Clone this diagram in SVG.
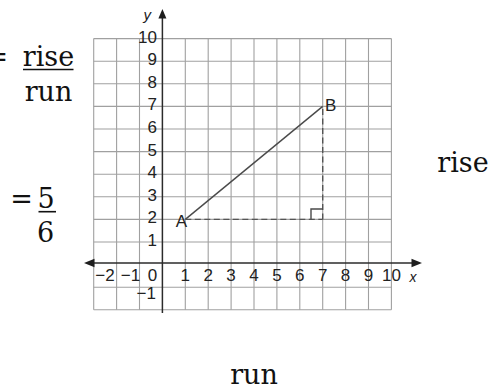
<svg xmlns="http://www.w3.org/2000/svg" width="490" height="389" viewBox="0 0 490 389">
<style>
.grid line{stroke:#a0a0a0;stroke-width:1.1}
.axis{stroke:#2b2b2b;stroke-width:1.5;fill:none}
.head{fill:#1e1e1e}
.num{font-family:"Liberation Sans",Arial,sans-serif;font-size:17px;fill:#222}
.pt{font-family:"Liberation Sans",Arial,sans-serif;font-size:17px;fill:#222}
.var{font-family:"Liberation Sans",Arial,sans-serif;font-style:italic;fill:#222}
.seg{stroke:#4a4a4a;stroke-width:1.4;fill:none}
.dash{stroke:#555;stroke-width:1.4;fill:none;stroke-dasharray:6 3.5}
.math{font-family:"DejaVu Serif","Liberation Serif",serif;font-size:27px;fill:#111}
.bar{stroke:#111;stroke-width:1.6}
</style>
<rect width="490" height="389" fill="#fff"/>
<g id="grid" class="grid">
<line x1="93.7" y1="38.6" x2="93.7" y2="309.8"/>
<line x1="116.6" y1="38.6" x2="116.6" y2="309.8"/>
<line x1="139.5" y1="38.6" x2="139.5" y2="309.8"/>
<line x1="185.3" y1="38.6" x2="185.3" y2="309.8"/>
<line x1="208.2" y1="38.6" x2="208.2" y2="309.8"/>
<line x1="231.1" y1="38.6" x2="231.1" y2="309.8"/>
<line x1="254" y1="38.6" x2="254" y2="309.8"/>
<line x1="276.9" y1="38.6" x2="276.9" y2="309.8"/>
<line x1="299.8" y1="38.6" x2="299.8" y2="309.8"/>
<line x1="322.7" y1="38.6" x2="322.7" y2="309.8"/>
<line x1="345.6" y1="38.6" x2="345.6" y2="309.8"/>
<line x1="368.5" y1="38.6" x2="368.5" y2="309.8"/>
<line x1="391.4" y1="38.6" x2="391.4" y2="309.8"/>
<line x1="93.7" y1="38.6" x2="391.4" y2="38.6"/>
<line x1="93.7" y1="61.2" x2="391.4" y2="61.2"/>
<line x1="93.7" y1="83.8" x2="391.4" y2="83.8"/>
<line x1="93.7" y1="106.4" x2="391.4" y2="106.4"/>
<line x1="93.7" y1="129" x2="391.4" y2="129"/>
<line x1="93.7" y1="151.6" x2="391.4" y2="151.6"/>
<line x1="93.7" y1="174.2" x2="391.4" y2="174.2"/>
<line x1="93.7" y1="196.8" x2="391.4" y2="196.8"/>
<line x1="93.7" y1="219.4" x2="391.4" y2="219.4"/>
<line x1="93.7" y1="242" x2="391.4" y2="242"/>
<line x1="93.7" y1="287.2" x2="391.4" y2="287.2"/>
<line x1="93.7" y1="309.8" x2="391.4" y2="309.8"/>
</g>
<g id="axes">
<line class="axis" x1="93" y1="263" x2="412" y2="263"/>
<polygon class="head" points="84,263 94.5,258.7 94.5,267.3"/>
<polygon class="head" points="422,263 411.5,258.7 411.5,267.3"/>
<line class="axis" x1="162.4" y1="313" x2="162.4" y2="17"/>
<polygon class="head" points="162.4,9 158.4,18.5 166.4,18.5"/>
<text class="var" x="409.5" y="281.7" font-size="14">x</text>
<text class="var" x="143.5" y="19.5" font-size="15">y</text>
</g>
<g id="x-labels" class="num" text-anchor="middle">
<text x="105" y="280.5">−2</text>
<text x="130.5" y="280.5">−1</text>
<text x="152.5" y="280.5">0</text>
<text x="185.3" y="280.5">1</text>
<text x="208.2" y="280.5">2</text>
<text x="231.1" y="280.5">3</text>
<text x="254" y="280.5">4</text>
<text x="276.9" y="280.5">5</text>
<text x="299.8" y="280.5">6</text>
<text x="322.7" y="280.5">7</text>
<text x="345.6" y="280.5">8</text>
<text x="368.5" y="280.5">9</text>
<text x="391.4" y="280.5">10</text>
</g>
<g id="y-labels" class="num" text-anchor="end">
<text x="157" y="42.6">10</text>
<text x="157" y="65.2">9</text>
<text x="157" y="87.8">8</text>
<text x="157" y="110.4">7</text>
<text x="157" y="133">6</text>
<text x="157" y="155.6">5</text>
<text x="157" y="178.2">4</text>
<text x="157" y="200.8">3</text>
<text x="157" y="223.4">2</text>
<text x="157" y="246">1</text>
<text x="156" y="299">−1</text>
</g>
<g id="connectors">
<line class="seg" x1="185.3" y1="219.4" x2="322.7" y2="106.4"/>
<line class="dash" x1="185.3" y1="219.4" x2="322.7" y2="219.4"/>
<line class="dash" x1="322.7" y1="219.4" x2="322.7" y2="106.4"/>
<polyline class="seg" points="311,219.4 311,209 322.7,209"/>
</g>
<g id="point-A"><text class="pt" x="187" y="226.5" text-anchor="end">A</text></g>
<g id="point-B"><text class="pt" x="325" y="110.5">B</text></g>
<g id="formula-1">
<text class="math" x="8" y="66" text-anchor="end">=</text>
<text class="math" x="48.5" y="66" text-anchor="middle">rise</text>
<line class="bar" x1="23" y1="69.5" x2="73.5" y2="69.5"/>
<text class="math" x="48.5" y="101" text-anchor="middle">run</text>
</g>
<g id="formula-2">
<text class="math" x="21.5" y="207.5" text-anchor="middle">=</text>
<text class="math" x="46" y="207.5" text-anchor="middle">5</text>
<line class="bar" x1="38.5" y1="211.7" x2="56" y2="211.7"/>
<text class="math" x="45.5" y="242" text-anchor="middle">6</text>
</g>
<g id="label-rise"><text class="math" x="463" y="172" text-anchor="middle">rise</text></g>
<g id="label-run"><text class="math" x="254" y="384" text-anchor="middle">run</text></g>
</svg>
